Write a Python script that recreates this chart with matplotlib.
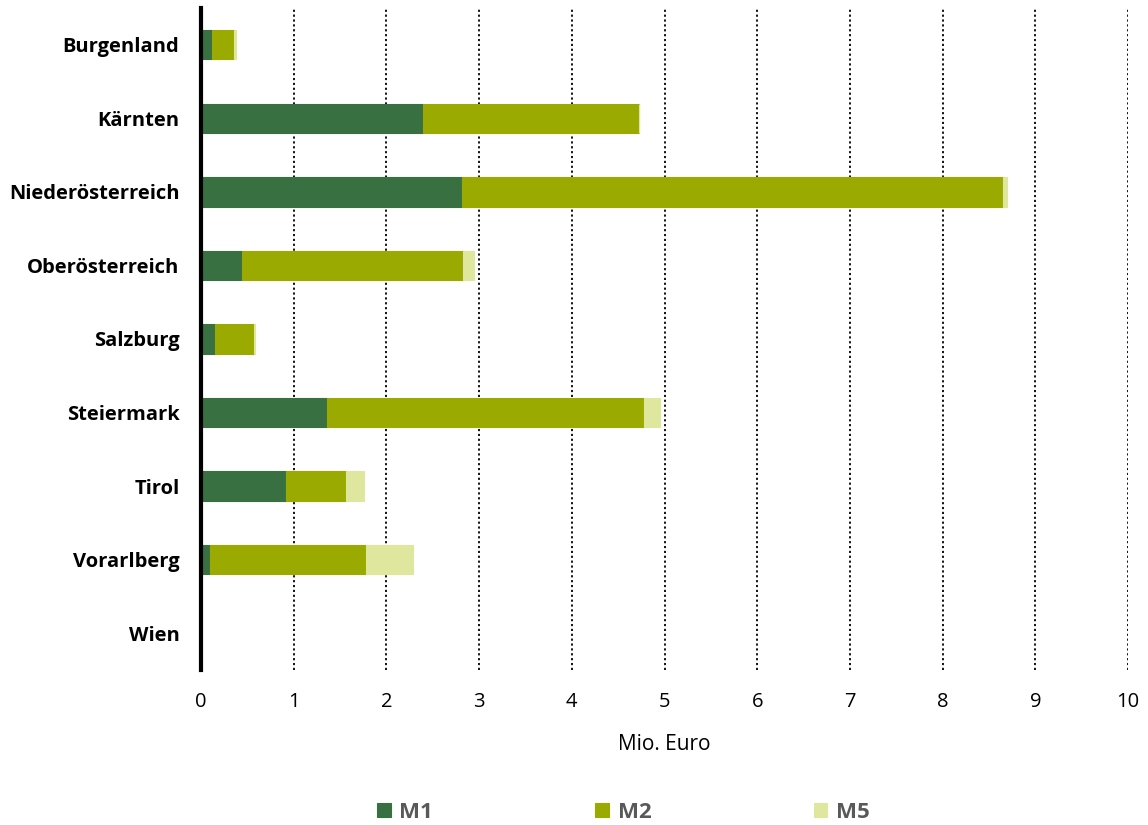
import matplotlib
matplotlib.use("Agg")
import matplotlib.pyplot as plt
import numpy as np

categories = ["Burgenland", "Kärnten", "Niederösterreich", "Oberösterreich",
              "Salzburg", "Steiermark", "Tirol", "Vorarlberg", "Wien"]
m1 = [0.12, 2.39, 2.82, 0.44, 0.15, 1.36, 0.92, 0.10, 0.0]
m2 = [0.24, 2.33, 5.83, 2.39, 0.42, 3.42, 0.64, 1.68, 0.0]
m5 = [0.02, 0.0, 0.04, 0.12, 0.01, 0.17, 0.20, 0.51, 0.0]
series_names = ["M1", "M2", "M5"]
colors = ["#387042", "#9AAA00", "#DFE69E"]
xticks = list(range(0, 11))

plt.rcParams['font.family'] = ['Open Sans', 'DejaVu Sans']

fig = plt.figure(figsize=(11.48, 8.25), dpi=100)
ax = fig.add_axes([0.1751, 0.1879, 0.8075, 0.8024])

y = np.arange(len(categories))
left = np.zeros(len(categories))
for vals, name, col in zip([m1, m2, m5], series_names, colors):
    ax.barh(y, vals, left=left, height=0.4, color=col, label=name,
            edgecolor=col, linewidth=0.8, zorder=3)
    left = left + np.array(vals)

ax.set_ylim(len(categories) - 0.5, -0.5)
ax.set_xlim(0, 10)
ax.set_yticks(y)
ax.set_yticklabels(categories, fontsize=14.5, fontweight='bold')
ax.set_xticks(xticks)
ax.set_xticklabels([str(t) for t in xticks], fontsize=14.5)
ax.tick_params(axis='y', length=0, pad=15.5)
ax.tick_params(axis='x', length=0, pad=16)

for s in ['top', 'right', 'bottom']:
    ax.spines[s].set_visible(False)
ax.spines['left'].set_linewidth(3)
ax.spines['left'].set_color('black')
ax.spines['left'].set_zorder(5)

ax.xaxis.grid(True, linestyle=(0, (1.2, 1.5)), color='black', linewidth=1.3, zorder=0)
ax.set_axisbelow(True)
ax.set_xlabel("Mio. Euro", fontsize=15, labelpad=16)

leg = fig.legend(loc='center', bbox_to_anchor=(0.543, 0.015), ncol=3, frameon=False,
                 handlelength=0.6, handleheight=0.6, handletextpad=0.4,
                 columnspacing=7.3, prop={'size': 16, 'weight': 'bold'})
for t in leg.get_texts():
    t.set_color('#595959')

fig.savefig("out.png", dpi=100)
